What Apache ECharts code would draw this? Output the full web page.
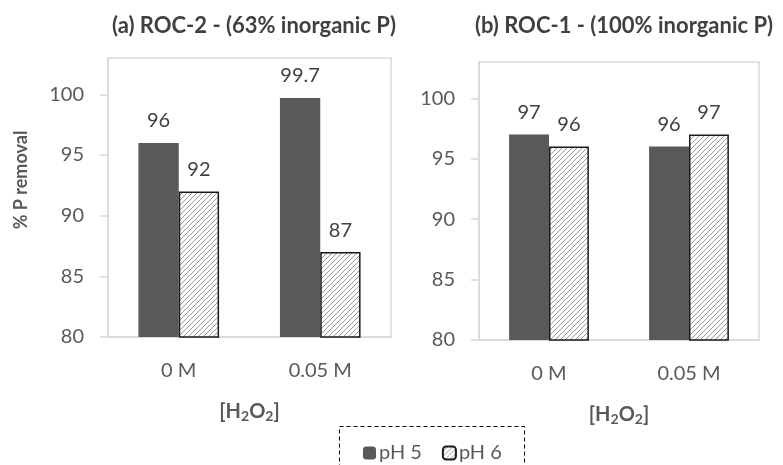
<!DOCTYPE html>
<html>
<head>
<meta charset="utf-8">
<script src="https://cdn.jsdelivr.net/npm/echarts@6/dist/echarts.min.js"></script>
<style>html,body{margin:0;padding:0;background:#fff;}#c{width:783px;height:465px;}</style>
</head>
<body>
<div id="c"></div>
<script>
const categories = ['0 M', '0.05 M'];
const rocA_pH5 = [96, 99.7];
const rocA_pH6 = [92, 87];
const rocB_pH5 = [97, 96];
const rocB_pH6 = [96, 97];
const yTicks = [80, 85, 90, 95, 100];
const titleA = '(a) ROC-2 - (63% inorganic P)';
const titleB = '(b) ROC-1 - (100% inorganic P)';
const yTitle = '% P removal';

const FONT = 'Lato';
const chart = echarts.init(document.getElementById('c'), null, {renderer: 'canvas'});

function hatch() {
  const s = 5;
  const cv = document.createElement('canvas');
  cv.width = s; cv.height = s;
  const ctx = cv.getContext('2d');
  ctx.fillStyle = '#ffffff';
  ctx.fillRect(0, 0, s, s);
  ctx.strokeStyle = '#999999';
  ctx.lineWidth = 1;
  ctx.beginPath();
  ctx.moveTo(-1, s + 1); ctx.lineTo(s + 1, -1);
  ctx.moveTo(-1, 1); ctx.lineTo(1, -1);
  ctx.moveTo(s - 1, s + 1); ctx.lineTo(s + 1, s - 1);
  ctx.stroke();
  return {image: cv, repeat: 'repeat'};
}
const hatchFill = hatch();

const labelStyle = {show: true, position: 'top', distance: 12, color: '#404040', fontSize: 20, fontFamily: FONT};

function xAx(idx) {
  return {
    type: 'category', gridIndex: idx, data: categories,
    axisLine: {lineStyle: {color: '#d9d9d9', width: 1.5}},
    axisTick: {show: false},
    axisLabel: {color: '#595959', fontSize: 20, fontFamily: FONT, margin: 24},
    name: '[H{s|2}O{s|2}]', nameLocation: 'middle', nameGap: 63,
    nameTextStyle: {color: '#595959', fontSize: 20, fontWeight: 'bold', fontFamily: FONT,
      rich: {s: {fontSize: 14, fontWeight: 'bold', fontFamily: FONT, color: '#595959', verticalAlign: 'bottom', padding: [9, 0, 0, 0]}}}
  };
}
function yAx(idx) {
  return {
    type: 'value', gridIndex: idx, min: 80, max: 103, interval: 5,
    axisLine: {show: true, lineStyle: {color: '#d9d9d9', width: 1.5}},
    axisTick: {show: true, length: 8, lineStyle: {color: '#d9d9d9', width: 1.5}, customValues: yTicks},
    axisLabel: {color: '#595959', fontSize: 20, fontFamily: FONT, margin: 24, customValues: yTicks},
    splitLine: {show: false}
  };
}

const darkStyle = {color: '#595959'};
const hatchStyle = {color: hatchFill, borderColor: '#1a1a1a', borderWidth: 1.5};

chart.setOption({
  animation: false,
  backgroundColor: '#ffffff',
  title: [
    {text: titleA, left: 249, top: 10, textAlign: 'center', textStyle: {color: '#404040', fontSize: 22, fontWeight: 'bold', fontFamily: FONT}},
    {text: titleB, left: 619, top: 10, textAlign: 'center', textStyle: {color: '#404040', fontSize: 22, fontWeight: 'bold', fontFamily: FONT}}
  ],
  grid: [
    {left: 108, top: 58, right: 392, bottom: 128, show: true, borderColor: '#d9d9d9', borderWidth: 1.5, backgroundColor: 'transparent'},
    {left: 479, top: 62, right: 24, bottom: 125, show: true, borderColor: '#d9d9d9', borderWidth: 1.5, backgroundColor: 'transparent'}
  ],
  xAxis: [xAx(0), xAx(1)],
  yAxis: [yAx(0), yAx(1)],
  legend: {
    data: ['pH 5', 'pH 6'], left: 358, top: 438,
    itemWidth: 13, itemHeight: 13, itemGap: 20,
    textStyle: {color: '#595959', fontSize: 20, fontFamily: FONT, padding: [0, 0, 0, -2]}
  },
  graphic: [
    {type: 'rect', shape: {x: 339.5, y: 426.5, width: 185, height: 60},
     style: {fill: 'none', stroke: '#000', lineWidth: 1, lineDash: [4, 3]}, silent: true, z: 100},
    {type: 'text', x: 21, y: 180, rotation: Math.PI / 2, silent: true,
     style: {text: yTitle, fill: '#595959', font: 'bold 18px ' + FONT, textAlign: 'center', textVerticalAlign: 'middle'}}
  ],
  series: [
    {name: 'pH 5', type: 'bar', xAxisIndex: 0, yAxisIndex: 0, data: rocA_pH5, barGap: '0%', barCategoryGap: '43%', itemStyle: darkStyle, label: labelStyle},
    {name: 'pH 6', type: 'bar', xAxisIndex: 0, yAxisIndex: 0, data: rocA_pH6, barGap: '0%', barCategoryGap: '43%', itemStyle: hatchStyle, label: labelStyle},
    {name: 'pH 5', type: 'bar', xAxisIndex: 1, yAxisIndex: 1, data: rocB_pH5, barGap: '0%', barCategoryGap: '43%', itemStyle: darkStyle, label: labelStyle},
    {name: 'pH 6', type: 'bar', xAxisIndex: 1, yAxisIndex: 1, data: rocB_pH6, barGap: '0%', barCategoryGap: '43%', itemStyle: hatchStyle, label: labelStyle}
  ]
});
</script>
</body>
</html>
